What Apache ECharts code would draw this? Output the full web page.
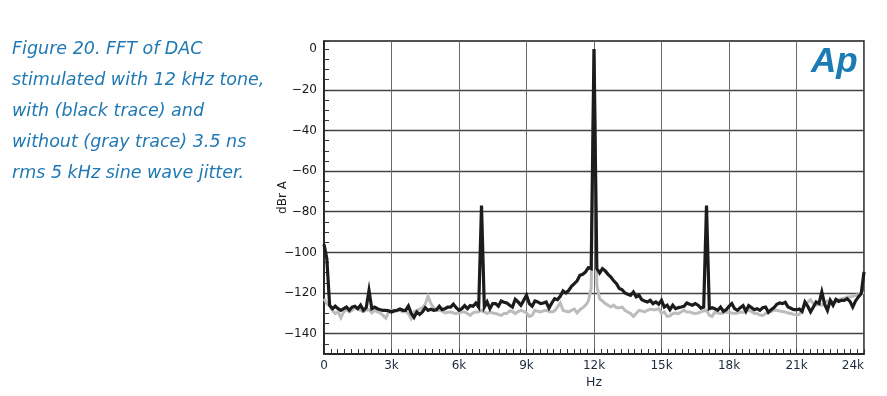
<!DOCTYPE html>
<html>
<head>
<meta charset="utf-8">
<script src="https://cdn.jsdelivr.net/npm/echarts@6/dist/echarts.min.js"></script>
<style>
html,body{margin:0;padding:0;background:#fff;}
#chart{width:887px;height:396px;}
</style>
</head>
<body>
<div id="chart"></div>
<script>
// Frequency bin spacing of the FFT trace (Hz)
const binHz = 125;

// Black trace: with 3.5 ns rms 5 kHz sine wave jitter (dBr A)
const blackTrace = [
  -96, -103, -126, -127.7, -126.5, -127.7, -128.5, -127.7,
  -126.9, -128.5, -126.9, -126.5, -127.7, -126, -128.5, -127.2,
  -118.7, -127.7, -126.9, -127.7, -128.2, -128.5, -128.5, -128.8,
  -129.3, -128.8, -128.5, -127.9, -128.5, -128.5, -126.4, -130,
  -132, -129.3, -130.5, -129.3, -127.2, -128.5, -128, -128.5,
  -128.2, -126.5, -128.2, -127.7, -126.9, -126.9, -125.5, -127.2,
  -128.5, -127.7, -126.2, -127.7, -126.2, -126.5, -124.9, -126.9,
  -77, -126.9, -124.4, -127.7, -125.2, -125.2, -126.5, -123.9,
  -124.5, -124.9, -126, -126.9, -123.1, -124.4, -126, -123.6,
  -121.1, -125.2, -126.5, -123.9, -124.4, -125.2, -124.9, -124.4,
  -127.4, -124.9, -122.8, -123.3, -121.6, -119, -120, -118.7,
  -116.7, -115.4, -114, -111.3, -110.8, -109.6, -107.5, -108,
  0, -108, -110.2, -108, -109.1, -110.8, -112.1, -114,
  -115.4, -117.8, -118.4, -120, -120.6, -121.1, -119.5, -121.9,
  -121.1, -123.3, -123.9, -124.4, -123.6, -125.2, -124.4, -125.5,
  -123.6, -126.9, -126, -128.2, -126, -127.7, -127.2, -126.9,
  -126.5, -124.9, -125.5, -126, -125.2, -126, -127.4, -126.9,
  -77, -127.7, -127.2, -127.7, -128.5, -126.9, -129, -128.2,
  -126.5, -125.2, -127.7, -128.5, -127.2, -126.2, -129, -126.2,
  -127.2, -128.2, -127.7, -128.5, -127.2, -126.9, -129.5, -128.2,
  -127.2, -125.5, -124.9, -125.2, -124.6, -126.9, -127.5, -128.2,
  -128.2, -127.9, -129.1, -124.4, -126.5, -129.3, -126.9, -124.4,
  -125.2, -119.5, -125.5, -128.5, -123.6, -126, -123.1, -124.1,
  -123.6, -123.6, -122.8, -124.1, -126.9, -123.9, -121.9, -120.3,
  -109.6
];

// Gray trace: without jitter (dBr A)
const grayTrace = [
  -122.8, -125.2, -126.5, -128.5, -130.1, -129.3, -132.2, -129.3,
  -127.9, -129.3, -128.5, -127.2, -127.7, -128.5, -129, -128.5,
  -128.2, -129.8, -128.5, -129.3, -129.8, -131, -132.4, -129.3,
  -128.5, -128.5, -128.8, -128.5, -129.3, -129, -130.1, -132.6,
  -129.3, -128.5, -127.9, -127.2, -125.5, -121.6, -125.2, -127.2,
  -128.5, -128.5, -128.8, -129.8, -129.5, -129.3, -129.8, -130.1,
  -129.8, -129.3, -129.3, -130.1, -131, -129.7, -129.3, -129.3,
  -128.5, -129.3, -130.1, -129.3, -129.8, -130.1, -130.5, -131,
  -130.1, -130.1, -128.8, -129.1, -130.1, -129.1, -128.5, -129,
  -129.8, -131.5, -131, -128.5, -129, -129.3, -128.8, -128.5,
  -129.1, -129.3, -128.8, -126.9, -124.9, -128.5, -129, -129.3,
  -128.5, -127.9, -129.8, -128.2, -127.2, -126, -123.9, -117.8,
  0, -116.2, -122.8, -123.9, -125.2, -126, -126.9, -126,
  -127.2, -127.2, -126.9, -128.5, -129.3, -130.1, -131.5, -130.1,
  -128.5, -128.8, -129.3, -128.5, -127.9, -128.2, -128.2, -127.7,
  -130.1, -129.3, -131.5, -131.2, -130.1, -129.8, -130.1, -129.3,
  -128.5, -129.3, -129.3, -129.8, -130.1, -129.8, -129.3, -128.8,
  -128.5, -131, -131.5, -129.3, -129.8, -130.1, -129.8, -129.5,
  -129.3, -129.8, -130.1, -129.8, -129.3, -129.5, -128.8, -128.5,
  -129.1, -130.1, -130.1, -130.8, -131, -130.1, -129.5, -129.1,
  -128.5, -128.5, -128.8, -129.1, -129.3, -129.8, -130.1, -130.5,
  -130.8, -130.5, -128.5, -126, -124.4, -123.3, -125.2, -126,
  -125.5, -126, -124.9, -123.9, -123.6, -124.4, -124.4, -123.3,
  -122.8, -122.6, -121.9, -121.9, -121.6, -121.1, -120.8, -120.3,
  -119.7
];

// Axis settings
const xMin = 0, xMax = 24000, xStep = 3000;
const yMin = -150, yMax = 4, yStep = 10, yLabelStep = 20;

const captionLines = [
  'Figure 20. FFT of DAC',
  'stimulated with 12 kHz tone,',
  'with (black trace) and',
  'without (gray trace) 3.5 ns',
  'rms 5 kHz sine wave jitter.'
];

const toPairs = arr => arr.map((v, i) => [i * binHz, v]);

const FONT = '"DejaVu Sans", Verdana, sans-serif';
const BLUE = '#2179b4';

// Horizontal grid lines every 20 dB from -140 to -20 (ticks every 10 dB from -150)
const hGridColors = [];
for (let v = yMin; v <= 0; v += yStep) {
  hGridColors.push((v % yLabelStep === 0 && v < 0 && v > yMin) ? '#444' : 'rgba(0,0,0,0)');
}

const chart = echarts.init(document.getElementById('chart'), null, {renderer: 'canvas'});

const graphics = captionLines.map((t, i) => ({
  type: 'text',
  left: 12,
  top: 40 + i * 31.1,
  style: {
    text: t,
    font: 'italic 17.5px ' + FONT,
    fill: BLUE
  },
  silent: true
}));
graphics.push({
  type: 'text',
  left: 811,
  top: 45,
  style: {
    text: 'Ap',
    font: 'italic bold 35px "Liberation Sans", Arial, sans-serif',
    fill: '#1b7bb5'
  },
  silent: true
});

chart.setOption({
  animation: false,
  backgroundColor: '#fff',
  grid: {
    left: 324, right: 23, top: 41, bottom: 42,
    show: true, borderColor: '#1a1a1a', borderWidth: 1.5,
    backgroundColor: 'transparent'
  },
  graphic: graphics,
  xAxis: {
    type: 'value',
    min: xMin, max: xMax, interval: xStep,
    name: 'Hz',
    nameLocation: 'middle',
    nameGap: 22,
    nameMoveOverlap: false,
    nameTextStyle: {fontFamily: FONT, fontSize: 12.5, color: '#1d2b3c'},
    axisLine: {show: true, onZero: false, lineStyle: {color: '#1a1a1a', width: 1.5}},
    axisTick: {show: true, inside: true, length: 5, lineStyle: {color: '#333'}},
    minorTick: {show: true, splitNumber: 10, length: 5, lineStyle: {color: '#333'}},
    axisLabel: {
      fontFamily: FONT, fontSize: 12, color: '#1d2b3c', margin: 6,
      alignMaxLabel: 'right',
      formatter: v => (v === 0 ? '0' : (v / 1000) + 'k')
    },
    splitLine: {show: true, lineStyle: {color: '#6a6a6a', width: 1}}
  },
  yAxis: {
    type: 'value',
    min: yMin, max: yMax, interval: yStep,
    name: 'dBr A',
    nameLocation: 'middle',
    nameGap: 35,
    nameMoveOverlap: false,
    nameRotate: 90,
    nameTextStyle: {fontFamily: FONT, fontSize: 12, color: '#1a1a1a'},
    axisLine: {show: true, onZero: false, lineStyle: {color: '#1a1a1a', width: 1.5}},
    axisTick: {show: true, inside: true, length: 5, lineStyle: {color: '#333'}},
    minorTick: {show: true, splitNumber: 2, length: 5, lineStyle: {color: '#333'}},
    axisLabel: {
      fontFamily: FONT, fontSize: 12, color: '#1a1a1a', margin: 7,
      formatter: v => {
        if (v > 0 || v % yLabelStep !== 0) return '';
        return v < 0 ? '\u2212' + Math.abs(v) : String(v);
      }
    },
    splitLine: {show: true, lineStyle: {color: hGridColors, width: 1.4}}
  },
  series: [
    {
      name: 'without jitter',
      type: 'line',
      data: toPairs(grayTrace),
      showSymbol: false,
      symbol: 'none',
      lineStyle: {color: '#bcbcbc', width: 3, join: 'miter'},
      z: 3,
      silent: true
    },
    {
      name: 'with jitter',
      type: 'line',
      data: toPairs(blackTrace),
      showSymbol: false,
      symbol: 'none',
      lineStyle: {color: '#1c1c1c', width: 3.2, join: 'miter'},
      z: 4,
      silent: true
    }
  ]
});
</script>
</body>
</html>
